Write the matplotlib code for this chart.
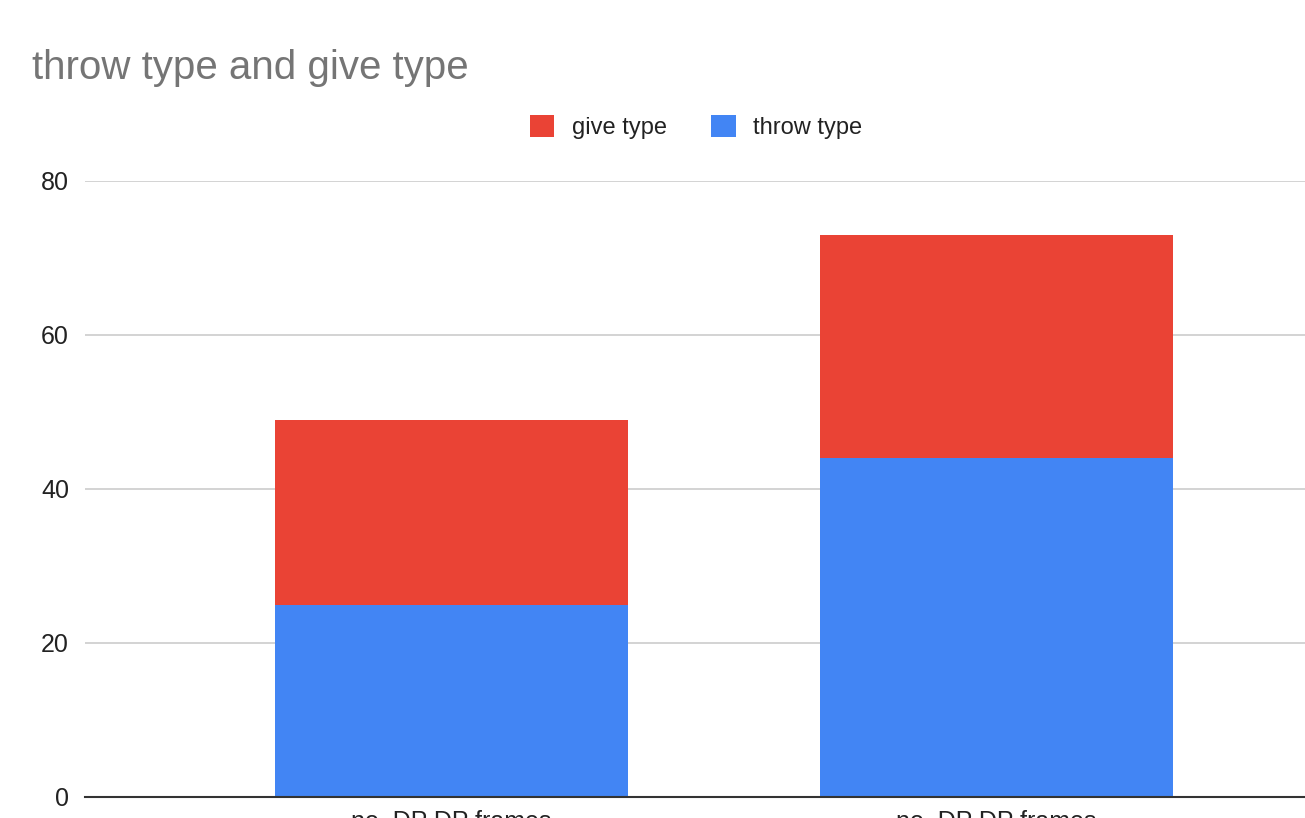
import numpy as np
import matplotlib.pyplot as plt
from matplotlib.patches import Patch

plt.rcParams["font.family"] = ["Liberation Sans", "DejaVu Sans"]

categories = ["no. DP DP frames", "no. DP DP frames"]
throw_type = [25, 44]
give_type = [24, 29]

BLUE = "#4285F4"
RED = "#EA4335"

W, H = 1305, 818
fig = plt.figure(figsize=(W / 100, H / 100), dpi=100)
# plot area: left edge 85px, runs to the right edge, y=0 at 797px, y=80 at 181px
ax = fig.add_axes([85 / W, 1 - 797 / H, 1 - 85 / W, (797 - 181) / H])

x = np.arange(len(categories))
width = 0.648
ax.bar(x, throw_type, width, color=BLUE, zorder=2)
ax.bar(x, give_type, width, bottom=throw_type, color=RED, zorder=2)

ax.set_xlim(-0.673, 1.567)
ax.set_ylim(0, 80)
ax.set_yticks([0, 20, 40, 60, 80])
ax.yaxis.grid(True, color="#cccccc", linewidth=1.2, zorder=0)
ax.set_xticks(x)
ax.set_xticklabels(categories)
ax.tick_params(axis="y", length=0, pad=11.5, labelsize=18, labelcolor="#222222")
ax.tick_params(axis="x", length=0, pad=9.5, labelsize=18, labelcolor="#222222")

for side in ["top", "right", "left"]:
    ax.spines[side].set_visible(False)
ax.spines["bottom"].set_color("#333333")
ax.spines["bottom"].set_linewidth(1.5)
ax.spines["bottom"].set_zorder(3)

fig.text(32 / W, 1 - 79 / H, "throw type and give type", fontsize=29,
         color="#757575", va="baseline", ha="left")

handles = [Patch(facecolor=RED, label="give type"),
           Patch(facecolor=BLUE, label="throw type")]
fig.legend(handles=handles, loc="center", bbox_to_anchor=(696 / W, 1 - 127 / H),
           ncol=2, frameon=False, fontsize=17, handlelength=1.05, handleheight=1.05,
           handletextpad=0.75, columnspacing=1.85, labelcolor="#222222")

fig.savefig("out.png", dpi=100)
